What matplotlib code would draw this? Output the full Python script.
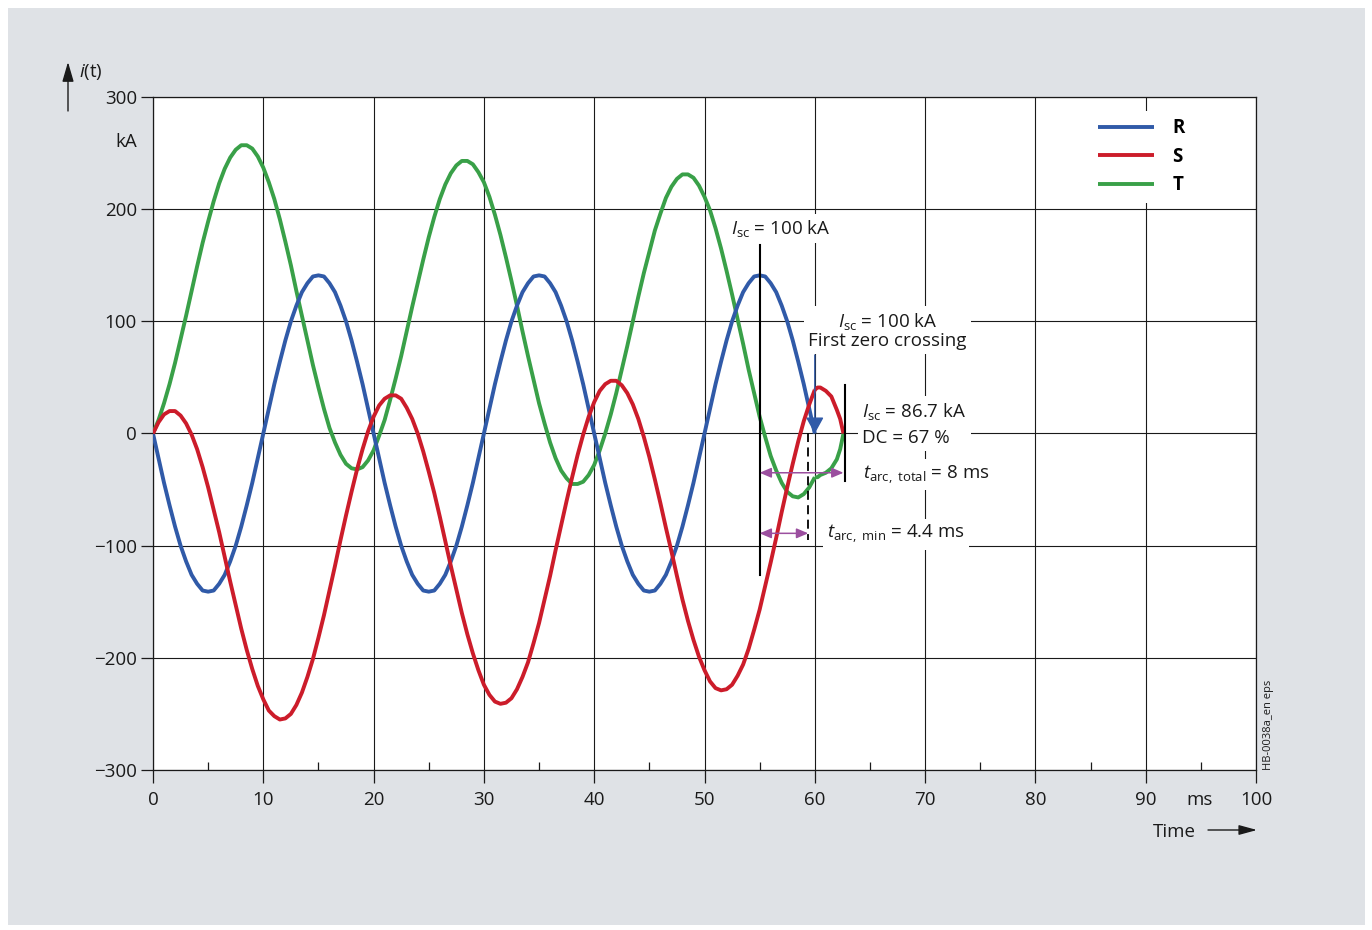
import numpy as np
import matplotlib
matplotlib.use("Agg")
import matplotlib.pyplot as plt
from matplotlib.patches import Rectangle
from matplotlib.transforms import blended_transform_factory

# ---------------------------------------------------------------------------
# data read off the chart (kA), sampled every 0.5 ms from 0 to 60 ms
# ---------------------------------------------------------------------------
t_ms = np.arange(0, 60.5, 0.5)

i_R = [
    0, -22, -44, -64, -83, -100, -114, -126, -134, -140,
    -141, -140, -134, -126, -114, -100, -83, -64, -44, -22,
    0, 22, 44, 64, 83, 100, 114, 126, 134, 140,
    141, 140, 134, 126, 114, 100, 83, 64, 44, 22,
    0, -22, -44, -64, -83, -100, -114, -126, -134, -140,
    -141, -140, -134, -126, -114, -100, -83, -64, -44, -22,
    0, 22, 44, 64, 83, 100, 114, 126, 134, 140,
    141, 140, 134, 126, 114, 100, 83, 64, 44, 22,
    0, -22, -44, -64, -83, -100, -114, -126, -134, -140,
    -141, -140, -134, -126, -114, -100, -83, -64, -44, -22,
    0, 22, 44, 64, 83, 100, 114, 126, 134, 140,
    141, 140, 134, 126, 114, 100, 83, 64, 44, 22,
    0,
]

i_S = [
    0, 10, 17, 20, 20, 16, 9, -1, -14, -30,
    -48, -68, -88, -110, -132, -153, -174, -193, -210, -225,
    -237, -247, -252, -255, -254, -250, -242, -231, -217, -201,
    -182, -162, -140, -118, -95, -73, -52, -32, -14, 2,
    15, 25, 31, 34, 34, 31, 23, 13, 0, -16,
    -34, -53, -74, -96, -118, -139, -160, -179, -196, -211,
    -224, -233, -239, -241, -240, -236, -228, -217, -204, -187,
    -169, -148, -127, -104, -82, -60, -39, -19, -1, 15,
    28, 38, 44, 47, 47, 43, 36, 26, 13, -3,
    -21, -41, -62, -84, -105, -127, -148, -167, -184, -199,
    -211, -221, -227, -229, -228, -224, -216, -206, -192, -175,
    -157, -136, -115, -93, -70, -48, -27, -7, 11, 26,
    39,
]

i_T = [
    0, 12, 27, 44, 63, 84, 105, 127, 149, 170,
    189, 207, 223, 236, 246, 253, 257, 257, 254, 247,
    237, 224, 209, 191, 171, 150, 127, 105, 83, 61,
    41, 22, 5, -8, -19, -27, -31, -32, -30, -24,
    -15, -2, 12, 30, 49, 69, 91, 113, 134, 155,
    175, 193, 209, 222, 232, 239, 243, 243, 240, 233,
    224, 211, 195, 177, 157, 136, 114, 91, 69, 48,
    27, 9, -8, -22, -33, -40, -45, -45, -43, -37,
    -28, -15, 0, 17, 36, 57, 78, 100, 122, 143,
    162, 181, 196, 210, 220, 227, 231, 231, 228, 221,
    211, 199, 183, 165, 145, 124, 102, 80, 57, 36,
    15, -3, -20, -33, -44, -52, -56, -57, -54, -48,
    -39,
]

# after the first zero crossing of R, S and T carry the two-phase current
t_tail = [60, 60.25, 60.5, 61, 61.5, 62, 62.3, 62.6]
i_S_tail = [39, 41, 41, 38, 33, 21, 13, 0]
i_T_tail = [-39, -39, -37, -35, -31, -23, -14, 0]

# markers of the breaking process (ms)
t_fault = 55.0
t_zero = 60.0
t_min_end = 59.4
t_total_end = 62.7

x_ticks = list(range(0, 101, 10))
x_minor = list(range(5, 100, 10))
y_ticks = [-300, -200, -100, 0, 100, 200, 300]
y_tick_labels = ["\u2212300", "\u2212200", "\u2212100", "0", "100", "200", "300"]

blue = "#305aa8"
red = "#cc1c2a"
green = "#39a048"
purple = "#9b4f9f"
ink = "#1a1a1a"

plt.rcParams["font.family"] = ["Open Sans", "DejaVu Sans"]
plt.rcParams["mathtext.fontset"] = "custom"
plt.rcParams["mathtext.rm"] = "Open Sans"
plt.rcParams["mathtext.it"] = "Open Sans:italic"
plt.rcParams["mathtext.bf"] = "Open Sans:bold"

W, H = 1372, 930
fig = plt.figure(figsize=(W / 100, H / 100), dpi=100)
fig.patch.set_facecolor("white")
fig.patches.append(Rectangle((8 / W, 5 / H), (1365 - 8) / W, (925 - 8) / H,
                             transform=fig.transFigure, facecolor="#dfe2e6",
                             edgecolor="none", zorder=-10))

ax = fig.add_axes([153 / W, (H - 770) / H, (1256 - 153) / W, (770 - 97) / H])
ax.set_facecolor("white")
ax.set_xlim(0, 100)
ax.set_ylim(-300, 300)

# curves
lw = 2.8
style = dict(lw=lw, solid_joinstyle="round", solid_capstyle="butt")
lT, = ax.plot(t_ms, i_T, color=green, zorder=3, **style)
ax.plot(t_tail, i_T_tail, color=green, zorder=3, **style)
lR, = ax.plot(t_ms, i_R, color=blue, zorder=3.1, **style)
lS, = ax.plot(t_ms, i_S, color=red, zorder=3.2, **style)
ax.plot(t_tail, i_S_tail, color=red, zorder=3.2, **style)

# grid, spines, ticks
ax.set_axisbelow(True)
ax.grid(True, which="major", color=ink, lw=0.8)
for sp in ax.spines.values():
    sp.set_color(ink)
    sp.set_linewidth(0.9)
ax.set_xticks(x_ticks)
ax.set_xticks(x_minor, minor=True)
ax.set_yticks(y_ticks)
ax.set_yticklabels(y_tick_labels)
ax.tick_params(axis="x", which="major", direction="out", length=9.5, width=0.9,
               pad=5.5, labelsize=13.5, color=ink, labelcolor=ink)
ax.tick_params(axis="x", which="minor", direction="in", length=5.5, width=0.9, color=ink)
ax.tick_params(axis="y", which="major", direction="out", length=8.5, width=0.9,
               pad=3, labelsize=13.5, color=ink, labelcolor=ink)

trans_y = blended_transform_factory(ax.transAxes, ax.transData)
ax.text(-0.0145, 260, "kA", transform=trans_y, ha="right", va="center",
        fontsize=13.5, color=ink)

# legend
ax.legend([lR, lS, lT], ["R", "S", "T"], loc="center", bbox_to_anchor=(0.896, 0.911),
          frameon=True, facecolor="white", edgecolor="none", framealpha=1,
          fancybox=False, handlelength=3.0, handletextpad=1.0, labelspacing=0.45,
          prop={"weight": "bold", "size": 13.5})

# breaking markers
ax.plot([t_fault, t_fault], [-126, 168], color="black", lw=1.5, zorder=5)
ax.plot([t_total_end, t_total_end], [-42, 43], color="black", lw=1.5, zorder=5)
ax.plot([t_min_end, t_min_end], [0, -95], color="black", lw=1.3,
        ls=(0, (5, 3)), zorder=5)

ax.annotate("", xy=(t_zero, 0), xytext=(t_zero, 70),
            arrowprops=dict(arrowstyle="-|>,head_length=1.0,head_width=0.55",
                            color=blue, lw=1.0, shrinkA=0, shrinkB=0,
                            mutation_scale=10), zorder=6)
ax.annotate("", xy=(t_fault, -35), xytext=(62.6, -35),
            arrowprops=dict(arrowstyle="<|-|>,head_length=0.7,head_width=0.3",
                            color=purple, lw=1.1, shrinkA=0, shrinkB=0,
                            mutation_scale=10), zorder=6)
ax.annotate("", xy=(t_fault, -89), xytext=(t_min_end, -89),
            arrowprops=dict(arrowstyle="<|-|>,head_length=0.7,head_width=0.3",
                            color=purple, lw=1.1, shrinkA=0, shrinkB=0,
                            mutation_scale=10), zorder=6)

bb = dict(facecolor="white", edgecolor="none", pad=3)
fs = 13.5
ax.text(56.9, 177.6, r"$I_{\mathrm{sc}}$ = 100 kA", ha="center", va="baseline",
        fontsize=fs, color=ink, bbox=bb, zorder=2)
ax.text(66.6, 78.3, "$I_{\\mathrm{sc}}$ = 100 kA\nFirst zero crossing", ha="center",
        va="baseline", multialignment="center", linespacing=1.0,
        fontsize=fs, color=ink, bbox=bb, zorder=2)
ax.text(64.3, -8.2, "$I_{\\mathrm{sc}}$ = 86.7 kA\nDC = 67 %", ha="left",
        va="baseline", linespacing=1.5, fontsize=fs, color=ink, bbox=bb, zorder=2)
ax.text(64.4, -40.6, r"$t_{\mathrm{arc,\ total}}$ = 8 ms", ha="left", va="baseline",
        fontsize=fs, color=ink, bbox=bb, zorder=2)
ax.text(61.1, -93.5, r"$t_{\mathrm{arc,\ min}}$ = 4.4 ms", ha="left", va="baseline",
        fontsize=fs, color=ink, bbox=bb, zorder=2)

# axis captions outside the plot
ax.annotate("", xy=(68, H - 62), xytext=(68, H - 111), xycoords="figure pixels",
            textcoords="figure pixels", annotation_clip=False,
            arrowprops=dict(arrowstyle="-|>,head_length=1.2,head_width=0.35",
                            color=ink, lw=1.0, shrinkA=0, shrinkB=0, mutation_scale=10))
fig.text(79 / W, (H - 77) / H, r"$i$(t)", ha="left", va="baseline", fontsize=fs, color=ink)
fig.text(1200 / W, (H - 805) / H, "ms", ha="center", va="baseline", fontsize=fs, color=ink)
fig.text(1174 / W, (H - 837) / H, "Time", ha="center", va="baseline", fontsize=fs, color=ink)
ax.annotate("", xy=(1257, H - 830), xytext=(1208, H - 830), xycoords="figure pixels",
            textcoords="figure pixels", annotation_clip=False,
            arrowprops=dict(arrowstyle="-|>,head_length=1.1,head_width=0.3",
                            color=ink, lw=1.0, shrinkA=0, shrinkB=0, mutation_scale=10))
ax.text(1.0109, 0.0, "HB-0038a_en eps", transform=ax.transAxes, rotation=90,
        ha="center", va="bottom", fontsize=8, color=ink)

fig.savefig("out.png", dpi=100)
